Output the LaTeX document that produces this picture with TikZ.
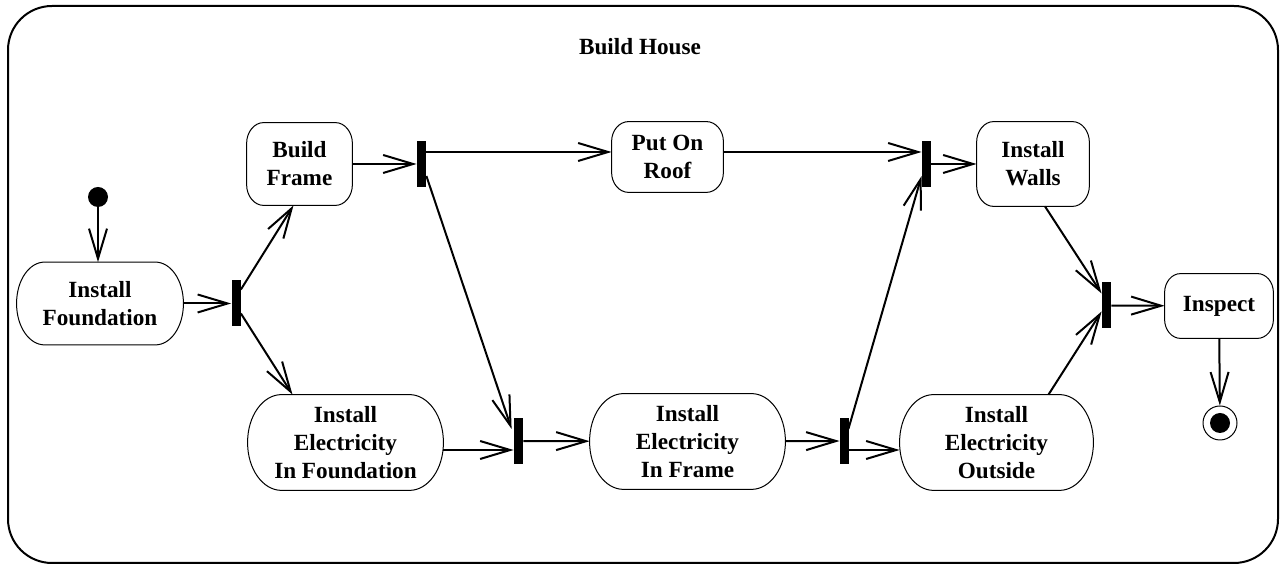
\documentclass[tikz,border=0pt]{standalone}
\usepackage{fontspec}
\setmainfont{Liberation Serif}
\usetikzlibrary{arrows.meta,calc}
\newcommand{\actfont}{\fontsize{11.6}{14}\selectfont\bfseries}
% border of an activity: flat top and bottom, elliptic corners
\newcommand{\actframe}[3]{%
  \draw[actline] let \p1=(#1.north west), \p2=(#1.south east) in
    (\x1+#2,\y1) -- (\x2-#2,\y1)
    arc[start angle=90,end angle=0,x radius=#2,y radius=#3] -- (\x2,\y2+#3)
    arc[start angle=0,end angle=-90,x radius=#2,y radius=#3] -- (\x1+#2,\y2)
    arc[start angle=270,end angle=180,x radius=#2,y radius=#3] -- (\x1,\y1-#3)
    arc[start angle=180,end angle=90,x radius=#2,y radius=#3] -- cycle;}
\tikzset{flow/.style={line width=1pt,-{Straight Barb[length=15pt,width=9pt]}},
  activity/.style={align=center,inner sep=0,font=\actfont},
  syncbar/.style={fill=black,inner sep=0,minimum width=4.5pt,minimum height=23pt},
  actline/.style={line width=0.5pt}}

\begin{document}
\begin{tikzpicture}[x=0.5pt,y=-0.5pt]
\useasboundingbox (0,0) rectangle (1281,565);
\draw[line width=1pt,rounded corners=22pt] (8,6) rectangle (1278,563);
\node[activity] (title) at (640,47) {Build House};
% activities
\node[activity,minimum width=83pt,minimum height=41pt] (found) at (100,303.5) {Install\\Foundation};
\node[activity,minimum width=52.5pt,minimum height=41pt] (frame) at (299.5,164) {Build\\Frame};
\node[activity,minimum width=55.5pt,minimum height=35pt] (roof) at (667.5,157) {Put On\\Roof};
\node[activity,minimum width=56pt,minimum height=42pt] (walls) at (1033,164) {Install\\Walls};
\node[activity,minimum width=54pt,minimum height=32pt] (inspect) at (1219,306) {Inspect};
\node[activity,minimum width=97.5pt,minimum height=47.5pt] (elecfound) at (345.5,442.5) {Install\\Electricity\\In Foundation};
\node[activity,minimum width=97.5pt,minimum height=47.5pt] (elecframe) at (687.5,441.5) {Install\\Electricity\\In Frame};
\node[activity,minimum width=96.5pt,minimum height=47.5pt] (elecout) at (996.5,442.5) {Install\\Electricity\\Outside};
\actframe{found}{14pt}{20.5pt}
\actframe{frame}{8.5pt}{10.5pt}
\actframe{roof}{8.5pt}{10pt}
\actframe{walls}{8.5pt}{10.5pt}
\actframe{inspect}{8pt}{9.5pt}
\actframe{elecfound}{17pt}{23.75pt}
\actframe{elecframe}{17pt}{23.75pt}
\actframe{elecout}{17pt}{23.75pt}
% start, end and the bars
\node[circle,fill=black,inner sep=0,minimum size=10pt] (start) at (98,197) {};
\node[circle,draw,actline,inner sep=0,minimum size=17pt] (finish) at (1220,423) {};
\fill (finish) circle (5pt);
\node[syncbar] (forkA) at (236,303.5) {};
\node[syncbar] (forkB) at (421.5,164) {};
\node[syncbar] (joinC) at (926.5,164) {};
\node[syncbar] (joinD) at (1106.5,305.5) {};
\node[syncbar] (joinE) at (518.5,441) {};
\node[syncbar] (joinF) at (844.5,441) {};
% transitions
\draw[flow] (start) -- (start |- found.north);
\draw[flow] (found) -- (forkA);
\draw[flow] ([yshift=7pt]forkA.east) -- ([xshift=-3pt]frame.south);
\draw[flow] ([yshift=-5pt]forkA.east) -- ([xshift=-26.5pt]elecfound.north);
\draw[flow] (frame) -- (forkB);
\draw[flow] ([yshift=6pt]forkB.east) -- ([yshift=2.5pt]roof.west);
\draw[flow] ([yshift=-6pt]forkB.east) -- ([xshift=-1pt,yshift=6pt]joinE.west);
\draw[flow] ([yshift=-3.75pt]elecfound.east) -- ([yshift=-4.5pt]joinE.west);
\draw[flow] (joinE) -- (elecframe);
\draw[flow] (elecframe) -- (joinF);
\draw[flow] ([yshift=-4.5pt]joinF.east) -- ([yshift=-3.75pt]elecout.west);
\draw[flow] ([xshift=-0.5pt,yshift=6pt]joinF.east) -- ([yshift=-6pt]joinC.west);
\draw[flow] ([yshift=2.5pt]roof.east) -- ([yshift=6pt]joinC.west);
\draw[flow] (joinC) -- (walls);
\draw[flow] ([xshift=6pt]walls.south) -- ([yshift=6pt]joinD.west);
\draw[flow] ([xshift=26pt]elecout.north) -- ([yshift=-3pt]joinD.west);
\draw[flow] (joinD) -- (inspect);
\draw[flow] (inspect) -- (finish);
\end{tikzpicture}
\end{document}
